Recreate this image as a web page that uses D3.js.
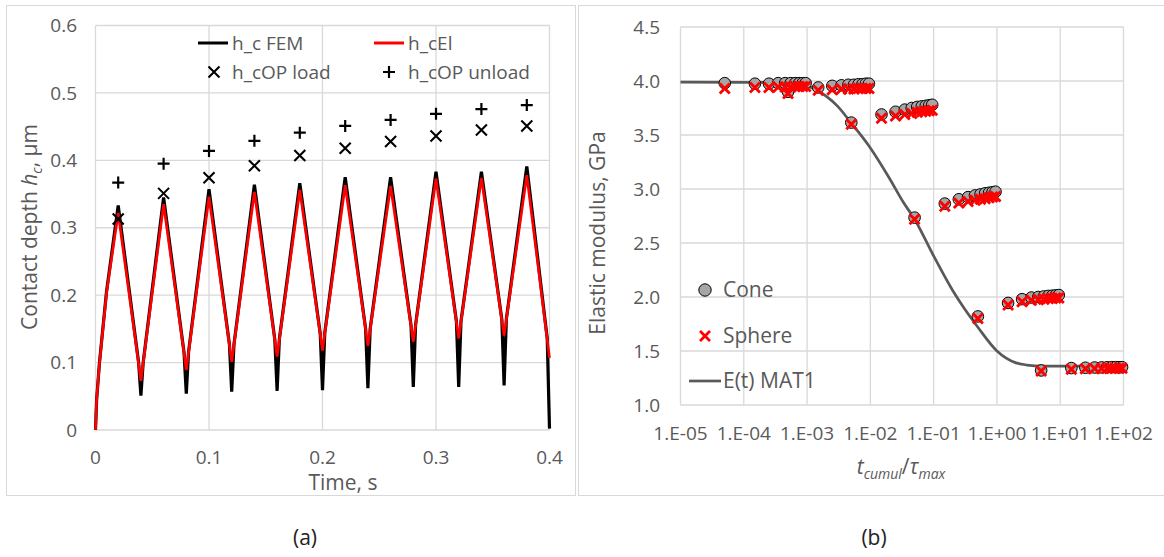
<!DOCTYPE html>
<html><head><meta charset="utf-8">
<script src="https://cdn.jsdelivr.net/npm/d3@7"></script>
<style>
body{margin:0;background:#fff}
svg{display:block}
text{font-family:"Open Sans",sans-serif}
</style>
</head><body>
<svg id="c" width="1164" height="557"></svg>
<script>
// ---------- Panel (a) data ----------
const timeA = [0,0.001,0.0035,0.0097,0.02,
  0.038,0.04,0.042,0.06, 0.078,0.08,0.082,0.10, 0.118,0.12,0.122,0.14,
  0.158,0.16,0.162,0.18, 0.198,0.20,0.202,0.22, 0.238,0.24,0.242,0.26,
  0.278,0.28,0.282,0.30, 0.318,0.32,0.322,0.34, 0.358,0.36,0.362,0.38,
  0.398,0.40];
const femA = [0,0.045,0.100,0.205,0.333,
  0.100,0.051,0.100,0.345, 0.115,0.054,0.116,0.357, 0.127,0.057,0.127,0.364,
  0.134,0.058,0.135,0.366, 0.143,0.059,0.144,0.375, 0.150,0.062,0.150,0.375,
  0.155,0.064,0.156,0.383, 0.161,0.064,0.161,0.383, 0.164,0.066,0.165,0.391,
  0.136,0.002];
const elA = [0,0.045,0.099,0.203,0.322,
  0.098,0.073,0.099,0.335, 0.114,0.089,0.115,0.346, 0.126,0.101,0.126,0.353,
  0.133,0.109,0.134,0.356, 0.142,0.118,0.143,0.363, 0.149,0.125,0.149,0.362,
  0.154,0.131,0.155,0.373, 0.160,0.136,0.160,0.374, 0.163,0.140,0.164,0.378,
  0.134,0.107];
const peakTimes = [0.02,0.06,0.10,0.14,0.18,0.22,0.26,0.30,0.34,0.38];
const opLoad   = [0.313,0.351,0.374,0.392,0.407,0.418,0.428,0.436,0.445,0.451];
const opUnload = [0.367,0.395,0.414,0.429,0.441,0.451,0.460,0.469,0.476,0.482];
const yTicksA = [0,0.1,0.2,0.3,0.4,0.5,0.6];
const yTickLabelsA = ["0","0.1","0.2","0.3","0.4","0.5","0.6"];
const xTicksA = [0,0.1,0.2,0.3,0.4];
const xTickLabelsA = ["0","0.1","0.2","0.3","0.4"];

// ---------- Panel (b) data ----------
const ratioB = [
  5e-5,1.5e-4,2.5e-4,3.5e-4,4.5e-4,5.5e-4,6.5e-4,7.5e-4,8.5e-4,9.5e-4,
  5e-4,1.5e-3,2.5e-3,3.5e-3,4.5e-3,5.5e-3,6.5e-3,7.5e-3,8.5e-3,9.5e-3,
  5e-3,1.5e-2,2.5e-2,3.5e-2,4.5e-2,5.5e-2,6.5e-2,7.5e-2,8.5e-2,9.5e-2,
  0.05,0.15,0.25,0.35,0.45,0.55,0.65,0.75,0.85,0.95,
  0.5,1.5,2.5,3.5,4.5,5.5,6.5,7.5,8.5,9.5,
  5,15,25,35,45,55,65,75,85,95];
const coneB = [
  3.98,3.975,3.975,3.98,3.98,3.98,3.98,3.98,3.98,3.98,
  3.90,3.94,3.955,3.96,3.965,3.965,3.97,3.97,3.975,3.975,
  3.615,3.69,3.715,3.735,3.75,3.76,3.765,3.77,3.775,3.78,
  2.735,2.865,2.905,2.925,2.94,2.95,2.96,2.965,2.97,2.975,
  1.82,1.945,1.98,1.995,2.00,2.005,2.01,2.012,2.015,2.018,
  1.32,1.342,1.345,1.347,1.348,1.349,1.35,1.35,1.35,1.35];
const sphereB = [
  3.93,3.94,3.94,3.945,3.945,3.945,3.95,3.95,3.95,3.95,
  3.885,3.915,3.92,3.925,3.925,3.925,3.93,3.93,3.93,3.93,
  3.60,3.655,3.675,3.69,3.70,3.71,3.715,3.72,3.725,3.73,
  2.72,2.84,2.87,2.885,2.895,2.905,2.91,2.92,2.925,2.93,
  1.80,1.925,1.955,1.97,1.975,1.98,1.985,1.987,1.99,1.99,
  1.315,1.33,1.335,1.337,1.338,1.34,1.34,1.34,1.34,1.34];
const curveXB = [1e-5,1e-4,3e-4,6e-4,1e-3,2e-3,3e-3,5e-3,1e-2,2e-2,3.3e-2,5e-2,1e-1,2e-1,3e-1,5e-1,1,2,3,5,10,100];
const curveYB = [3.99,3.988,3.985,3.975,3.955,3.86,3.77,3.61,3.38,3.10,2.88,2.72,2.38,2.06,1.90,1.72,1.50,1.39,1.37,1.36,1.36,1.36];
const xTicksB = [1e-5,1e-4,1e-3,1e-2,1e-1,1,10,100];
const xTickLabelsB = ["1.E-05","1.E-04","1.E-03","1.E-02","1.E-01","1.E+00","1.E+01","1.E+02"];
const yTicksB = [1,1.5,2,2.5,3,3.5,4,4.5];
const yTickLabelsB = ["1.0","1.5","2.0","2.5","3.0","3.5","4.0","4.5"];

// ---------- drawing ----------
const svg = d3.select("#c");
const GRID = "#d9d9d9", TXT = "#595959";

// panel frames
svg.append("rect").attr("x",6.5).attr("y",5.5).attr("width",569).attr("height",490)
  .attr("fill","none").attr("stroke","#d9d9d9");
svg.append("rect").attr("x",578.5).attr("y",5.5).attr("width",600).attr("height",490)
  .attr("fill","none").attr("stroke","#d9d9d9");

function crossPath(s){return `M${-s},${-s}L${s},${s}M${-s},${s}L${s},${-s}`;}
function plusPath(s){return `M${-s},0L${s},0M0,${-s}L0,${s}`;}

// ===== Panel (a) =====
const xA = d3.scaleLinear().domain([0,0.4]).range([95.5,549.5]);
const yA = d3.scaleLinear().domain([0,0.6]).range([430,25.5]);
const gA = svg.append("g");
gA.selectAll(".gx").data(xTicksA).join("line")
  .attr("x1",d=>xA(d)).attr("x2",d=>xA(d)).attr("y1",yA(0)).attr("y2",yA(0.6))
  .attr("stroke",GRID).attr("stroke-width",1.3);
gA.selectAll(".gy").data(yTicksA).join("line")
  .attr("y1",d=>yA(d)).attr("y2",d=>yA(d)).attr("x1",xA(0)).attr("x2",xA(0.4))
  .attr("stroke",GRID).attr("stroke-width",1.3);
gA.selectAll(".ty").data(yTicksA).join("text")
  .attr("x",77).attr("y",d=>yA(d)).attr("dy","0.35em").attr("text-anchor","end")
  .attr("font-size",19).attr("fill",TXT).text((d,i)=>yTickLabelsA[i]);
gA.selectAll(".tx").data(xTicksA).join("text")
  .attr("x",d=>xA(d)).attr("y",464).attr("text-anchor","middle")
  .attr("font-size",19).attr("fill",TXT).text((d,i)=>xTickLabelsA[i]);

const lineA = d3.line().x(d=>xA(d[0])).y(d=>yA(d[1]));
gA.append("path").datum(timeA.map((t,i)=>[t,femA[i]])).attr("d",lineA)
  .attr("fill","none").attr("stroke","#000").attr("stroke-width",3.2).attr("stroke-linejoin","miter");
gA.append("path").datum(timeA.map((t,i)=>[t,elA[i]])).attr("d",lineA)
  .attr("fill","none").attr("stroke","#ff0000").attr("stroke-width",2.7).attr("stroke-linejoin","miter");

gA.selectAll(".ml").data(peakTimes).join("path")
  .attr("transform",(d,i)=>`translate(${xA(d)},${yA(opLoad[i])})`)
  .attr("d",crossPath(5.5)).attr("stroke","#000").attr("stroke-width",2.1).attr("fill","none");
gA.selectAll(".mu").data(peakTimes).join("path")
  .attr("transform",(d,i)=>`translate(${xA(d)},${yA(opUnload[i])})`)
  .attr("d",plusPath(6)).attr("stroke","#000").attr("stroke-width",2.2).attr("fill","none");

// legend (a)
const lg = gA.append("g").attr("font-size",19).attr("fill",TXT);
lg.append("line").attr("x1",198).attr("x2",228).attr("y1",43).attr("y2",43).attr("stroke","#000").attr("stroke-width",3);
lg.append("text").attr("x",232).attr("y",43).attr("dy","0.35em").text("h_c FEM");
lg.append("line").attr("x1",374).attr("x2",404).attr("y1",43).attr("y2",43).attr("stroke","#ff0000").attr("stroke-width",3);
lg.append("text").attr("x",408).attr("y",43).attr("dy","0.35em").text("h_cEl");
lg.append("path").attr("transform","translate(214,72)").attr("d",crossPath(5.5)).attr("stroke","#000").attr("stroke-width",2.1).attr("fill","none");
lg.append("text").attr("x",232).attr("y",72).attr("dy","0.35em").text("h_cOP load");
lg.append("path").attr("transform","translate(389,72)").attr("d",plusPath(6)).attr("stroke","#000").attr("stroke-width",2.2).attr("fill","none");
lg.append("text").attr("x",408).attr("y",72).attr("dy","0.35em").text("h_cOP unload");

// axis titles (a)
gA.append("text").attr("x",343).attr("y",490).attr("text-anchor","middle")
  .attr("font-size",21).attr("fill",TXT).text("Time, s");
const ytA = gA.append("text").attr("transform","translate(37,227) rotate(-90)")
  .attr("text-anchor","middle").attr("font-size",21).attr("fill",TXT);
ytA.append("tspan").text("Contact depth ");
ytA.append("tspan").attr("font-style","italic").text("h");
ytA.append("tspan").attr("font-size",14).attr("font-style","italic").attr("dy",5).text("c");
ytA.append("tspan").attr("dy",-5).text(", µm");

// ===== Panel (b) =====
const xB = d3.scaleLog().domain([1e-5,1e2]).range([680.5,1123.5]);
const yB = d3.scaleLinear().domain([1,4.5]).range([405,27]);
const gB = svg.append("g");
gB.selectAll(".gx").data(xTicksB).join("line")
  .attr("x1",d=>xB(d)).attr("x2",d=>xB(d)).attr("y1",yB(1)).attr("y2",yB(4.5))
  .attr("stroke",GRID).attr("stroke-width",1.3);
gB.selectAll(".gy").data(yTicksB).join("line")
  .attr("y1",d=>yB(d)).attr("y2",d=>yB(d)).attr("x1",xB(1e-5)).attr("x2",xB(1e2))
  .attr("stroke",GRID).attr("stroke-width",1.3);
gB.selectAll(".ty").data(yTicksB).join("text")
  .attr("x",660).attr("y",d=>yB(d)).attr("dy","0.35em").attr("text-anchor","end")
  .attr("font-size",19).attr("fill",TXT).text((d,i)=>yTickLabelsB[i]);
gB.selectAll(".tx").data(xTicksB).join("text")
  .attr("x",d=>xB(d)).attr("y",440).attr("text-anchor","middle")
  .attr("font-size",19).attr("fill",TXT).text((d,i)=>xTickLabelsB[i]);

const lineB = d3.line().x(d=>xB(d[0])).y(d=>yB(d[1])).curve(d3.curveMonotoneX);
gB.append("path").datum(curveXB.map((x,i)=>[x,curveYB[i]])).attr("d",lineB)
  .attr("fill","none").attr("stroke","#595959").attr("stroke-width",2.7);

gB.selectAll(".cone").data(ratioB).join("circle")
  .attr("cx",d=>xB(d)).attr("cy",(d,i)=>yB(coneB[i])).attr("r",5.8)
  .attr("fill","#a6a6a6").attr("stroke","#000").attr("stroke-width",1);
gB.selectAll(".sph").data(ratioB).join("path")
  .attr("transform",(d,i)=>`translate(${xB(d)},${yB(sphereB[i])})`)
  .attr("d",crossPath(5)).attr("stroke","#ff0000").attr("stroke-width",2.8).attr("fill","none");

// legend (b)
const lgB = gB.append("g").attr("font-size",21).attr("fill",TXT);
lgB.append("circle").attr("cx",705).attr("cy",290).attr("r",6.2).attr("fill","#a6a6a6").attr("stroke","#000").attr("stroke-width",1);
lgB.append("text").attr("x",723).attr("y",290).attr("dy","0.35em").text("Cone");
lgB.append("path").attr("transform","translate(705,336)").attr("d",crossPath(5)).attr("stroke","#ff0000").attr("stroke-width",2.8).attr("fill","none");
lgB.append("text").attr("x",723).attr("y",336).attr("dy","0.35em").text("Sphere");
lgB.append("line").attr("x1",689).attr("x2",721).attr("y1",381).attr("y2",381).attr("stroke","#595959").attr("stroke-width",2.7);
lgB.append("text").attr("x",723).attr("y",381).attr("dy","0.35em").text("E(t) MAT1");

// axis titles (b)
const xtB = gB.append("text").attr("x",901).attr("y",474).attr("text-anchor","middle")
  .attr("font-size",21).attr("fill",TXT);
xtB.append("tspan").attr("font-style","italic").text("t");
xtB.append("tspan").attr("font-style","italic").attr("font-size",14).attr("dy",5).text("cumul");
xtB.append("tspan").attr("dy",-5).text("/");
xtB.append("tspan").attr("font-style","italic").text("τ");
xtB.append("tspan").attr("font-style","italic").attr("font-size",14).attr("dy",5).text("max");
gB.append("text").attr("transform","translate(605,233) rotate(-90)")
  .attr("text-anchor","middle").attr("font-size",21).attr("fill",TXT).text("Elastic modulus, GPa");

// panel labels
svg.append("text").attr("x",305).attr("y",545).attr("text-anchor","middle")
  .attr("font-size",21).attr("fill","#222").text("(a)");
svg.append("text").attr("x",874).attr("y",545).attr("text-anchor","middle")
  .attr("font-size",21).attr("fill","#222").text("(b)");
</script>
</body></html>
